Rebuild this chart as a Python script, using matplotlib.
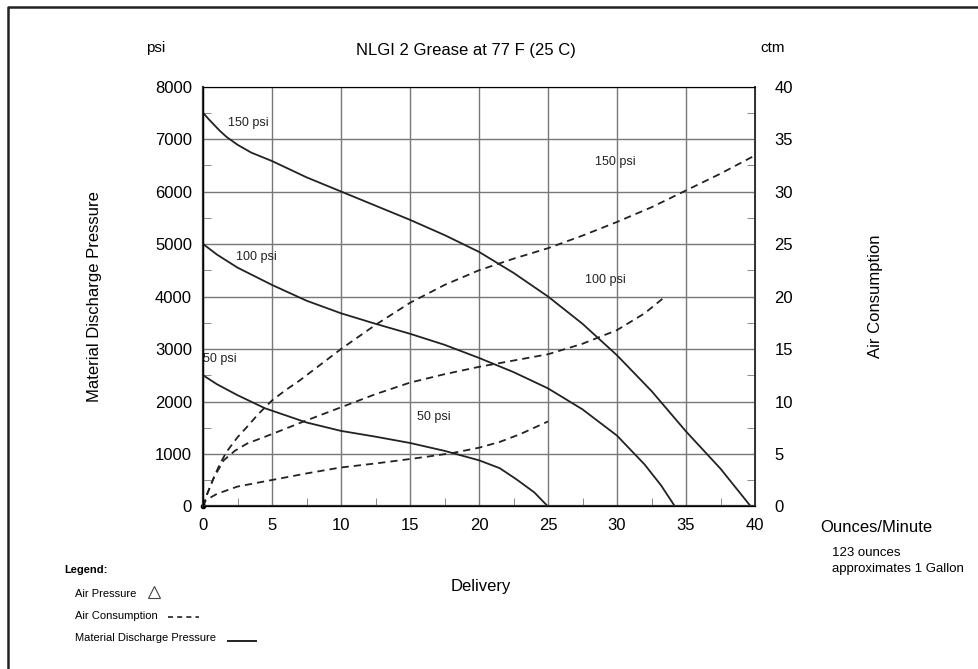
import numpy as np
import matplotlib
matplotlib.use('Agg')
import matplotlib.pyplot as plt
from matplotlib.lines import Line2D

plt.rcParams['font.family'] = ['Liberation Sans', 'DejaVu Sans']

# material discharge pressure (psi) vs delivery (oz/min)
x150 = [0, 0.4, 0.8, 1.2, 1.7, 2.5, 3.5, 5, 7.5, 10, 12.5, 15, 17.5, 20, 22.5, 25, 27.5, 30, 32.5, 35, 37.5, 39.7]
p150 = [7500, 7380, 7270, 7160, 7040, 6890, 6740, 6580, 6270, 6000, 5730, 5460, 5170, 4850, 4450, 4000, 3480, 2880, 2200, 1430, 720, 0]
x100 = [0, 1, 2.5, 5, 7.5, 10, 12.5, 15, 17.5, 20, 22.5, 25, 27.5, 30, 32, 33.2, 34.2]
p100 = [5000, 4800, 4550, 4220, 3920, 3680, 3480, 3290, 3080, 2830, 2560, 2250, 1850, 1350, 800, 400, 0]
x50 = [0, 1, 2.5, 4.5, 7.5, 10, 12.5, 15, 17.5, 20, 21.5, 22.7, 24, 25]
p50 = [2500, 2330, 2120, 1870, 1600, 1440, 1330, 1210, 1060, 880, 730, 520, 270, 0]

# air consumption (cfm) vs delivery
xa150 = [0, 0.3, 0.7, 1.2, 1.7, 2.5, 3.2, 4, 5, 6, 7, 8.5, 10, 12.5, 15, 17.5, 20, 22.5, 25, 27.5, 30, 32.5, 35, 37.5, 39.8]
c150 = [0, 1.2, 2.5, 4.0, 5.2, 6.6, 7.6, 8.8, 10.1, 11.1, 12.0, 13.5, 15.0, 17.3, 19.4, 21.1, 22.5, 23.6, 24.6, 25.8, 27.1, 28.5, 30.1, 31.7, 33.3]
xa100 = [0, 0.3, 0.8, 1.5, 2.3, 3.2, 5, 7.3, 9.9, 12.5, 15, 17.5, 20, 22.5, 25, 27.5, 30, 32, 33.5]
c100 = [0, 1.2, 2.8, 4.4, 5.3, 6.0, 6.9, 8.1, 9.4, 10.7, 11.8, 12.6, 13.3, 13.9, 14.5, 15.5, 16.8, 18.4, 20.0]
xa50 = [0, 0.2, 1, 2.5, 4.9, 7.5, 9.9, 12.5, 14.3, 16, 18.1, 20, 21.5, 23, 25]
c50 = [0, 0.6, 1.2, 1.9, 2.5, 3.15, 3.7, 4.1, 4.4, 4.7, 5.1, 5.6, 6.15, 6.9, 8.1]

fig = plt.figure(figsize=(9.79, 6.69), dpi=100)
ax = fig.add_axes([0.2074, 0.2429, 0.5638, 0.6278])

for xs, ys in [(x150, p150), (x100, p100), (x50, p50)]:
    ax.plot(xs, ys, color='#222222', lw=1.3)
for xs, cs in [(xa150, c150), (xa100, c100), (xa50, c50)]:
    ax.plot(xs, np.array(cs) * 200, color='#222222', lw=1.3, ls=(0, (4, 2.8)))
ax.plot([0], [0], 'o', color='black', ms=3, clip_on=False)

ax.set_xlim(0, 40)
ax.set_ylim(0, 8000)
ax.set_xticks(np.arange(0, 41, 5))
ax.set_xticks(np.arange(0, 41, 2.5), minor=True)
ax.set_yticks(np.arange(0, 8001, 1000))
ax.set_yticks(np.arange(0, 8001, 500), minor=True)
ax.grid(True, which='major', color='#777777', lw=1.0)
ax.tick_params(which='both', direction='in', labelsize=12, color='#777777')
ax.tick_params(which='major', length=0, pad=8)
ax.tick_params(which='minor', length=6)
for s in ['top', 'right']:
    ax.spines[s].set_color('#777777')
for s in ['left', 'bottom']:
    ax.spines[s].set_color('#333333')
    ax.spines[s].set_linewidth(1.6)

ax2 = ax.twinx()
ax2.set_ylim(0, 40)
ax2.set_yticks(np.arange(0, 41, 5))
ax2.set_yticks(np.arange(0, 41, 2.5), minor=True)
ax2.tick_params(which='both', direction='in', labelsize=12, color='#777777')
ax2.tick_params(which='major', length=0, pad=14)
ax2.tick_params(which='minor', length=6)
ax2.spines['right'].set_color('#333333')
ax2.spines['right'].set_linewidth(1.4)

ax.set_ylabel('Material Discharge Pressure', fontsize=12, labelpad=38)
ax2.set_ylabel('Air Consumption', fontsize=12, labelpad=54)

# curve labels
lab = dict(fontsize=9, color='#222222')
ax.text(1.8, 7250, '150 psi', **lab)
ax.text(2.4, 4700, '100 psi', **lab)
ax.text(0.0, 2750, '50 psi', **lab)
ax.text(28.4, 6500, '150 psi', **lab)
ax.text(27.7, 4250, '100 psi', **lab)
ax.text(15.5, 1650, '50 psi', **lab)

# figure text
fig.text(0.476, 0.925, 'NLGI 2 Grease at 77 F (25 C)', fontsize=12, ha='center', va='center')
fig.text(0.159, 0.928, 'psi', fontsize=11, ha='center', va='center')
fig.text(0.789, 0.928, 'ctm', fontsize=11, ha='center', va='center')
fig.text(0.838, 0.211, 'Ounces/Minute', fontsize=12, ha='left', va='center')
fig.text(0.850, 0.174, '123 ounces', fontsize=9.5, ha='left', va='center')
fig.text(0.850, 0.149, 'approximates 1 Gallon', fontsize=9.5, ha='left', va='center')
fig.text(0.491, 0.123, 'Delivery', fontsize=12, ha='center', va='center')

fig.text(0.066, 0.148, 'Legend:', fontsize=8, fontweight='bold', va='center')
fig.text(0.077, 0.112, 'Air Pressure', fontsize=8, va='center')
fig.text(0.077, 0.079, 'Air Consumption', fontsize=8, va='center')
fig.text(0.077, 0.046, 'Material Discharge Pressure', fontsize=8, va='center')
fig.add_artist(Line2D([0.157], [0.115], marker='^', ms=9, mfc='white', mec='#444444', mew=0.8, transform=fig.transFigure))
fig.add_artist(Line2D([0.172, 0.203], [0.077, 0.077], color='#222222', lw=1.2, ls=(0, (3, 2.5)), transform=fig.transFigure))
fig.add_artist(Line2D([0.233, 0.262], [0.042, 0.042], color='#222222', lw=1.4, transform=fig.transFigure))

# page border (left and top)
fig.add_artist(Line2D([0.0085, 0.0085, 1.0], [0.0, 0.9895, 0.9895], color='#222222', lw=1.8, transform=fig.transFigure))

fig.savefig('out.png', dpi=100)
